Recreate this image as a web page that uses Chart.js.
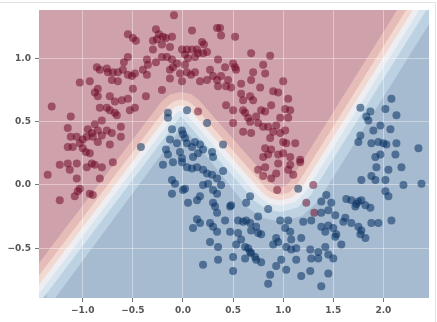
<!DOCTYPE html>
<html>
<head>
<meta charset="utf-8">
<script src="https://cdn.jsdelivr.net/npm/chart.js@4.4.0/dist/chart.umd.min.js"></script>
<style>
  html, body { margin: 0; padding: 0; background: #fff; }
  #wrap { width: 437px; height: 322px; }
</style>
</head>
<body>
<div id="wrap"><canvas id="chart" width="437" height="322"></canvas></div>
<script>
/**
 * Axis ranges and ticks
 */
const xRange = [-1.437, 2.455]
const yRange = [-0.893, 1.382]
const xTicks = [-1.0, -0.5, 0.0, 0.5, 1.0, 1.5, 2.0]
const xTickLabels = ['\u22121.0', '\u22120.5', '0.0', '0.5', '1.0', '1.5', '2.0']
const yTicks = [-0.5, 0.0, 0.5, 1.0]
const yTickLabels = ['\u22120.5', '0.0', '0.5', '1.0']

/**
 * Probability contours (boundary between two filled bands), red side is above the line
 */
const lvl15 = [[-1.793, -0.987], [-0.216, 0.658], [-0.131, 0.715], [-0.022, 0.735], [0.075, 0.720], [0.155, 0.675],
  [0.891, 0.011], [0.927, -0.009], [0.971, -0.017], [1.024, -0.006], [1.063, 0.024], [2.261, 1.540]]
const lvl30 = [[-1.698, -0.987], [-0.155, 0.622], [-0.096, 0.660], [-0.022, 0.675], [0.044, 0.664], [0.099, 0.633],
  [0.835, -0.031], [0.897, -0.066], [0.971, -0.077], [1.061, -0.059], [1.129, -0.009], [2.352, 1.540]]
const lvl45 = [[-1.627, -0.987], [-0.109, 0.595], [-0.071, 0.620], [-0.022, 0.630], [0.021, 0.622], [0.057, 0.602],
  [0.793, -0.061], [0.874, -0.107], [0.971, -0.122], [1.089, -0.099], [1.177, -0.032], [2.419, 1.540]]
const lvl60 = [[-1.560, -0.987], [-0.065, 0.570], [-0.022, 0.587], [0.018, 0.573],
  [0.753, -0.090], [0.852, -0.145], [0.971, -0.165], [1.115, -0.136], [1.223, -0.055], [2.483, 1.540]]
const lvl75 = [[-1.484, -0.987], [-0.021, 0.545],
  [0.710, -0.123], [0.828, -0.190], [0.971, -0.213], [1.144, -0.178], [1.273, -0.081], [2.555, 1.540]]
const lvl90 = [[-1.364, -0.987], [-0.005, 0.465],
  [0.638, -0.175], [0.789, -0.260], [0.971, -0.290], [1.191, -0.245], [1.355, -0.122], [2.669, 1.540]]

/**
 * Samples
 */
const redMoon = [
  [-0.09, 1.34], [-0.55, 1.19], [-0.50, 1.16], [-0.47, 1.14], [-0.27, 1.23], [-0.24, 1.19], [-0.30, 1.14], [-0.26, 1.15],
  [-0.20, 1.17], [-0.11, 1.17], [-0.21, 1.11], [-0.17, 1.16], [-0.30, 1.07], [-0.13, 1.09], [-0.01, 1.07], [0.04, 1.07],
  [0.09, 1.07], [0.14, 1.07], [0.09, 1.22], [0.19, 1.13], [0.21, 1.11], [0.24, 1.05], [0.34, 1.24], [-0.55, 1.01],
  [-0.59, 0.97], [-0.36, 0.99], [-0.27, 0.97], [-0.21, 1.01], [-0.16, 1.01], [-0.11, 0.99], [-0.06, 0.96], [0.02, 1.03],
  [0.05, 1.00], [0.12, 1.01], [0.15, 1.04], [0.20, 1.04], [-0.86, 0.93], [-0.83, 0.91], [-0.76, 0.92], [-0.75, 0.89],
  [-0.70, 0.89], [-0.65, 0.89], [-0.60, 0.91], [-0.55, 0.87], [-0.51, 0.86], [-0.48, 0.88], [-0.40, 0.91], [-0.36, 0.87],
  [-0.35, 0.95], [-0.13, 0.91], [-0.10, 0.93], [-0.03, 0.88], [0.02, 0.95], [0.04, 0.89], [0.08, 0.87], [0.12, 0.89],
  [0.17, 0.82], [0.27, 0.91], [0.30, 0.86], [0.24, 0.83], [0.34, 0.83], [0.35, 0.78], [-0.01, 0.82], [-0.13, 0.84],
  [-0.21, 0.75], [-0.50, 0.76], [-0.85, 0.76], [-1.03, 0.81], [-0.93, 0.82], [-0.71, 0.83], [-0.65, 0.82], [-0.85, 0.70],
  [-0.88, 0.73], [-0.73, 0.70], [-0.68, 0.66], [-0.55, 0.68], [-0.61, 0.67], [-0.53, 0.59], [-0.48, 0.61], [-0.37, 0.70],
  [-0.83, 0.61], [-0.76, 0.61], [-0.73, 0.59], [-0.68, 0.57], [-0.66, 0.55], [-1.31, 0.62], [-1.12, 0.54], [-0.81, 0.51],
  [-0.88, 0.48], [-0.95, 0.44], [-0.85, 0.43], [-0.76, 0.43], [-0.71, 0.41], [-0.62, 0.46], [-1.15, 0.45], [-1.12, 0.38],
  [-1.06, 0.38], [-1.00, 0.36], [-1.03, 0.33], [-0.91, 0.41], [-0.90, 0.38], [-0.85, 0.34], [-0.81, 0.39], [-0.73, 0.32],
  [-0.96, 0.38], [-1.10, 0.30], [-1.15, 0.30], [-1.00, 0.29], [-0.97, 0.26], [-0.93, 0.25], [-0.62, 0.38], [0.15, 0.58],
  [0.37, 1.24], [0.38, 1.18], [0.52, 1.17], [0.68, 1.04], [0.87, 1.02], [0.35, 0.99], [0.42, 0.93], [0.50, 0.96],
  [0.53, 0.91], [0.38, 0.86], [0.45, 0.83], [0.52, 0.93], [0.43, 0.78], [0.48, 0.77], [0.58, 0.80], [0.70, 0.89],
  [0.80, 0.95], [0.82, 0.88], [0.68, 0.83], [0.77, 0.77], [0.90, 0.74], [0.95, 0.73], [1.00, 0.82], [1.05, 0.68],
  [0.58, 0.72], [0.60, 0.67], [0.67, 0.70], [0.70, 0.67], [0.43, 0.63], [0.50, 0.59], [0.60, 0.59], [0.62, 0.57],
  [0.65, 0.53], [0.67, 0.50], [0.73, 0.54], [0.78, 0.59], [0.82, 0.58], [0.88, 0.63], [1.02, 0.60], [1.07, 0.59],
  [1.05, 0.53], [0.97, 0.53], [0.93, 0.47], [0.85, 0.46], [0.80, 0.46], [0.75, 0.49], [0.50, 0.49], [0.60, 0.42],
  [0.68, 0.41], [0.90, 0.42], [0.97, 0.41], [1.02, 0.43], [1.00, 0.34], [1.03, 0.33], [1.12, 0.33], [0.87, 0.37],
  [0.82, 0.29], [0.88, 0.28], [0.85, 0.24], [0.80, 0.22], [0.95, 0.24], [1.00, 0.25], [1.07, 0.22], [1.17, 0.20],
  [-1.35, 0.08], [-1.23, 0.16], [-1.15, 0.17], [-1.13, 0.12], [-1.06, 0.17], [-0.96, 0.14], [-0.91, 0.17], [-0.88, 0.16],
  [-0.81, 0.14], [-0.83, 0.05], [-1.06, 0.05], [-0.70, 0.18], [-1.03, -0.03], [-1.05, -0.05], [-1.08, -0.09], [-1.23, -0.12],
  [-0.93, -0.07], [-0.90, -0.08],
  [0.82, 0.14], [0.95, 0.17], [1.07, 0.16], [0.75, 0.12], [0.80, 0.07], [0.88, 0.05], [0.93, 0.09], [1.05, 0.12],
  [1.10, 0.08], [1.17, 0.18], [0.94, -0.04], [1.30, 0.00], [1.23, -0.14], [1.31, -0.22]
]
const blueMoon = [
  [-0.15, 0.57], [-0.15, 0.53], [0.04, 0.59], [0.24, 0.49], [-0.11, 0.44], [-0.01, 0.43], [0.00, 0.40], [0.02, 0.37],
  [0.04, 0.33], [0.09, 0.30], [0.12, 0.34], [0.17, 0.32], [0.20, 0.28], [0.29, 0.26], [0.30, 0.22], [-0.42, 0.30],
  [-0.17, 0.28], [-0.15, 0.24], [-0.03, 0.26], [-0.01, 0.21], [0.10, 0.22], [0.15, 0.25], [-0.13, 0.36], [-0.06, 0.33],
  [0.40, 0.32], [1.77, 0.61], [1.87, 0.58], [1.83, 0.54], [1.85, 0.51], [2.02, 0.60], [2.08, 0.68], [2.13, 0.55],
  [1.97, 0.47], [1.90, 0.43], [2.07, 0.44], [1.77, 0.39], [1.75, 0.34], [1.88, 0.33], [1.95, 0.34], [2.00, 0.33],
  [2.03, 0.32], [2.13, 0.33], [2.35, 0.29], [1.92, 0.22], [1.97, 0.24], [2.12, 0.24],
  [-0.20, 0.16], [-0.10, 0.18], [-0.01, 0.18], [0.04, 0.14], [0.09, 0.13], [0.14, 0.14], [0.20, 0.12], [0.24, 0.09],
  [0.29, 0.08], [0.34, 0.05], [-0.11, 0.04], [-0.08, 0.01], [-0.11, -0.07], [0.00, -0.04], [0.02, -0.03], [0.05, -0.14],
  [0.14, -0.12], [0.17, -0.09], [0.20, 0.00], [0.25, 0.01], [0.30, -0.04], [0.34, -0.07], [0.30, -0.14], [0.32, -0.17],
  [0.34, -0.22], [0.14, -0.27], [0.10, -0.34], [0.17, -0.30], [0.27, -0.30], [0.30, -0.33], [0.34, -0.37], [0.27, -0.45],
  [0.35, -0.49], [0.20, -0.63], [0.35, -0.59],
  [0.40, 0.11], [0.38, 0.00], [1.15, -0.03], [1.43, -0.08], [1.38, -0.13], [1.48, -0.14], [0.85, -0.19], [1.63, -0.11],
  [1.68, -0.12], [1.75, -0.13], [1.78, -0.12], [1.73, -0.15], [1.72, -0.17], [1.82, -0.16], [1.87, -0.18], [1.93, 0.14],
  [2.05, 0.12], [2.18, 0.14], [2.38, 0.01], [2.20, 0.00], [2.02, -0.05], [2.05, -0.09], [1.78, 0.04], [1.88, 0.07],
  [1.92, 0.04], [2.02, 0.04], [0.42, -0.28], [0.47, -0.17], [0.48, -0.16], [0.55, -0.28], [0.60, -0.29], [0.63, -0.14],
  [0.67, -0.09], [0.63, -0.28], [0.67, -0.30], [0.75, -0.25], [0.73, -0.33], [0.68, -0.36], [0.75, -0.38], [0.78, -0.39],
  [0.47, -0.37], [0.55, -0.38], [0.58, -0.43], [0.53, -0.47], [0.62, -0.49], [0.65, -0.50], [0.67, -0.53], [0.68, -0.54],
  [0.72, -0.57], [0.73, -0.59], [0.78, -0.61], [0.50, -0.57], [0.62, -0.58], [0.50, -0.68], [0.97, -0.28], [1.05, -0.28],
  [1.02, -0.34], [1.07, -0.37], [1.08, -0.43], [0.93, -0.42], [0.95, -0.45], [0.90, -0.47], [1.03, -0.49], [1.08, -0.51],
  [1.13, -0.50], [1.18, -0.42], [1.20, -0.29], [1.28, -0.28], [1.38, -0.22], [1.45, -0.20], [1.52, -0.24], [1.38, -0.33],
  [1.42, -0.37], [1.50, -0.34], [1.53, -0.39], [1.58, -0.47], [1.52, -0.41], [1.45, -0.32], [1.60, -0.29], [1.62, -0.26],
  [1.68, -0.30], [1.75, -0.33], [1.78, -0.36], [1.77, -0.39], [1.82, -0.42], [1.88, -0.30], [1.95, -0.30], [2.08, -0.28],
  [1.27, -0.51], [1.35, -0.53], [1.42, -0.49], [1.45, -0.55], [1.50, -0.58], [1.28, -0.58], [1.35, -0.58], [0.98, -0.59],
  [0.93, -0.64], [0.87, -0.71], [1.03, -0.67], [1.13, -0.59], [1.18, -0.72], [1.27, -0.68], [1.45, -0.70], [0.85, -0.78],
  [1.38, -0.80]
]

// band colours, filled above each contour (red side last so it ends on top)
const levels = [lvl15, lvl30, lvl45, lvl60, lvl75, lvl90]
const levelNames = ['p=0.15', 'p=0.30', 'p=0.45', 'p=0.60', 'p=0.75', 'p=0.90']
const bandFill = ['#cfa1ab', '#e6bcb9', '#f1d9d1', '#eeeef2', '#d9e5ee', '#bcd2e2']
const baseBlue = '#a6bad0'
const gridColor = 'rgba(255,255,255,0.4)'
const tickFont = {family: 'DejaVu Sans', size: 9, weight: 'bold'}

function toXY (pts) {
  return pts.map(p => ({x: p[0], y: p[1]}))
}

let datasets = [
  {
    type           : 'scatter',
    label          : 'class 0',
    data           : toXY(redMoon),
    backgroundColor: 'rgba(103,0,31,0.5)',
    borderColor    : 'transparent',
    borderWidth    : 0,
    pointRadius    : 4,
    order          : 0
  },
  {
    type           : 'scatter',
    label          : 'class 1',
    data           : toXY(blueMoon),
    backgroundColor: 'rgba(5,48,97,0.55)',
    borderColor    : 'transparent',
    borderWidth    : 0,
    pointRadius    : 4,
    order          : 0
  }
]
levels.forEach((lvl, i) => {
  datasets.push({
    type           : 'line',
    label          : levelNames[i],
    data           : toXY(lvl),
    fill           : 'end',
    backgroundColor: bandFill[i],
    borderColor    : 'transparent',
    borderWidth    : 0,
    pointRadius    : 0,
    tension        : 0,
    order          : i + 1
  })
})

//Blue base under the bands, grid redrawn over the bands, thin frame
const decor = {
  id: 'decor',
  beforeDatasetsDraw (chart) {
    let ctx = chart.ctx, a = chart.chartArea
    ctx.save()
    ctx.fillStyle = baseBlue
    ctx.fillRect(a.left, a.top, a.right - a.left, a.bottom - a.top)
    ctx.restore()
  },
  afterDatasetDraw (chart, args) {
    if (chart.data.datasets[args.index].label !== 'p=0.15') return
    chart.scales.x.drawGrid(chart.chartArea)
    chart.scales.y.drawGrid(chart.chartArea)
  },
  afterDraw (chart) {
    let ctx = chart.ctx
    ctx.save()
    ctx.strokeStyle = '#e2e2e2'
    ctx.lineWidth = 1
    ctx.beginPath()
    ctx.moveTo(0, 2.5)
    ctx.lineTo(435.5, 2.5)
    ctx.lineTo(435.5, 322)
    ctx.stroke()
    ctx.restore()
  }
}

new Chart(document.getElementById('chart'), {
  type   : 'line',
  data   : {datasets: datasets},
  plugins: [decor],
  options: {
    responsive         : false,
    animation          : false,
    devicePixelRatio   : 1,
    layout             : {padding: {top: 10, right: 8, left: 0, bottom: 0}},
    plugins            : {legend: {display: false}, tooltip: {enabled: false}},
    scales             : {
      x: {
        type           : 'linear',
        min            : xRange[0],
        max            : xRange[1],
        afterBuildTicks: s => { s.ticks = xTicks.map(v => ({value: v})) },
        afterFit       : s => { s.height = 24 },
        ticks          : {
          callback   : (v, i) => xTickLabels[i],
          font       : tickFont,
          color      : '#555',
          padding    : 3,
          maxRotation: 0,
          autoSkip   : false
        },
        grid           : {color: gridColor, tickColor: '#777', tickLength: 4},
        border         : {display: false}
      },
      y: {
        type           : 'linear',
        min            : yRange[0],
        max            : yRange[1],
        afterBuildTicks: s => { s.ticks = yTicks.map(v => ({value: v})) },
        afterFit       : s => { s.width = 39 },
        ticks          : {
          callback: (v, i) => yTickLabels[i],
          font    : tickFont,
          color   : '#555',
          padding : 4,
          autoSkip: false
        },
        grid           : {color: gridColor, tickColor: '#777', tickLength: 4},
        border         : {display: false}
      }
    }
  }
})
</script>
</body>
</html>
